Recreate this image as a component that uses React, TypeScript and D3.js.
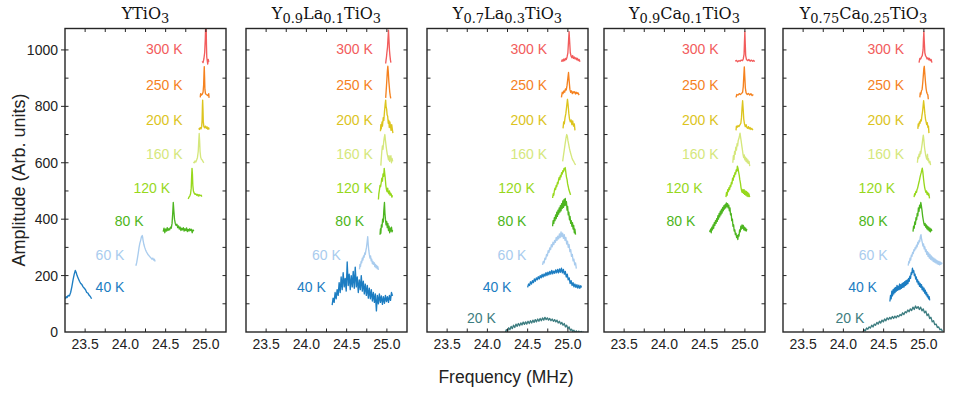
import React from 'react';
import * as d3 from 'd3';

type Pt = [number, number];

// ---------- categories / labels ----------
const temperatures = ['300', '250', '200', '160', '120', '80', '60', '40', '20'];
const tempColors: Record<string, string> = {
  '300': '#f25c5c', '250': '#f5821f', '200': '#dcc41e', '160': '#d5e77c',
  '120': '#97d81c', '80': '#4db520', '60': '#a9ccee', '40': '#1c7dc2', '20': '#3d7d80',
};
// label vertical position (amplitude units)
const labelAmp: Record<string, number> = {
  '300': 1003, '250': 874, '200': 753, '160': 632, '120': 512, '80': 393, '60': 273, '40': 161, '20': 48,
};
const xTickLabels = [23.5, 24.0, 24.5, 25.0];
const xMinorTicks = [23.75, 24.25, 24.75];
const yTickLabels = [0, 200, 400, 600, 800, 1000];
const yMinorTicks = [100, 300, 500, 700, 900];

const panelTitles: { t: string; sub?: boolean }[][] = [
  [{ t: 'YTiO' }, { t: '3', sub: true }],
  [{ t: 'Y' }, { t: '0.9', sub: true }, { t: 'La' }, { t: '0.1', sub: true }, { t: 'TiO' }, { t: '3', sub: true }],
  [{ t: 'Y' }, { t: '0.7', sub: true }, { t: 'La' }, { t: '0.3', sub: true }, { t: 'TiO' }, { t: '3', sub: true }],
  [{ t: 'Y' }, { t: '0.9', sub: true }, { t: 'Ca' }, { t: '0.1', sub: true }, { t: 'TiO' }, { t: '3', sub: true }],
  [{ t: 'Y' }, { t: '0.75', sub: true }, { t: 'Ca' }, { t: '0.25', sub: true }, { t: 'TiO' }, { t: '3', sub: true }],
];

// label right-end frequency per panel
const labelFreq: Record<string, number>[] = [
  { '300': 24.71, '250': 24.71, '200': 24.71, '160': 24.71, '120': 24.556, '80': 24.225, '60': 23.988, '40': 23.988 },
  { '300': 24.826, '250': 24.826, '200': 24.826, '160': 24.826, '120': 24.826, '80': 24.718, '60': 24.428, '40': 24.241 },
  { '300': 24.742, '250': 24.742, '200': 24.742, '160': 24.742, '120': 24.589, '80': 24.485, '60': 24.485, '40': 24.299, '20': 24.104 },
  { '300': 24.674, '250': 24.674, '200': 24.674, '160': 24.674, '120': 24.475, '80': 24.384 },
  { '300': 24.755, '250': 24.755, '200': 24.755, '160': 24.755, '120': 24.644, '80': 24.549, '60': 24.549, '40': 24.417, '20': 24.261 },
];

// ---------- Panel 1: YTiO3 ----------
const p1_300: Pt[] = [[24.955, 960], [24.965, 955], [24.975, 968], [24.985, 990], [24.993, 1040], [24.998, 1095], [25.003, 1100], [25.007, 1020], [25.011, 975], [25.017, 962], [25.023, 950], [25.03, 966], [25.036, 958]];
const p1_250: Pt[] = [[24.93, 832], [24.935, 845], [24.945, 840], [24.955, 843], [24.965, 850], [24.972, 875], [24.977, 920], [24.98, 941], [24.984, 905], [24.988, 860], [24.995, 845], [25.005, 842], [25.015, 840], [25.025, 838], [25.035, 845], [25.04, 830]];
const p1_200: Pt[] = [[24.91, 722], [24.92, 718], [24.93, 725], [24.94, 720], [24.948, 728], [24.953, 750], [24.957, 800], [24.96, 822], [24.964, 790], [24.968, 745], [24.975, 728], [24.985, 724], [24.995, 730], [25.005, 722], [25.015, 727], [25.025, 719], [25.035, 724], [25.04, 718]];
const p1_160: Pt[] = [[24.845, 603], [24.855, 600], [24.865, 606], [24.875, 603], [24.885, 610], [24.895, 618], [24.905, 640], [24.912, 680], [24.917, 704], [24.922, 680], [24.928, 640], [24.935, 620], [24.945, 612], [24.955, 610], [24.965, 604], [24.975, 600]];
const p1_120: Pt[] = [[24.78, 472], [24.79, 478], [24.8, 482], [24.81, 490], [24.818, 510], [24.823, 550], [24.828, 580], [24.833, 560], [24.838, 520], [24.845, 500], [24.855, 492], [24.865, 488], [24.875, 490], [24.885, 485], [24.895, 488], [24.905, 482], [24.915, 487], [24.925, 483], [24.94, 485], [24.95, 480]];
const p1_80: Pt[] = [[24.47, 356], [24.48, 368], [24.49, 352], [24.5, 365], [24.51, 358], [24.52, 370], [24.53, 360], [24.54, 366], [24.55, 362], [24.56, 372], [24.57, 368], [24.58, 385], [24.588, 420], [24.595, 459], [24.602, 430], [24.61, 400], [24.62, 385], [24.63, 378], [24.64, 382], [24.65, 370], [24.66, 376], [24.67, 365], [24.68, 372], [24.69, 360], [24.7, 368], [24.71, 362], [24.72, 370], [24.73, 358], [24.74, 366], [24.75, 360], [24.76, 369], [24.77, 356], [24.78, 364], [24.79, 358], [24.8, 366], [24.81, 360], [24.82, 364], [24.83, 352], [24.84, 362], [24.85, 358]];
const p1_60: Pt[] = [[24.13, 235], [24.14, 245], [24.15, 262], [24.16, 280], [24.17, 300], [24.18, 315], [24.19, 325], [24.2, 338], [24.21, 342], [24.215, 335], [24.22, 325], [24.23, 310], [24.24, 300], [24.25, 292], [24.26, 285], [24.27, 280], [24.28, 275], [24.29, 272], [24.3, 268], [24.31, 265], [24.32, 262], [24.33, 258], [24.34, 262], [24.35, 255], [24.36, 258], [24.37, 250]];
const p1_40: Pt[] = [[23.255, 118], [23.265, 125], [23.275, 122], [23.29, 130], [23.305, 128], [23.32, 140], [23.335, 160], [23.35, 185], [23.365, 205], [23.378, 218], [23.388, 212], [23.4, 200], [23.415, 190], [23.43, 180], [23.445, 172], [23.46, 168], [23.475, 160], [23.49, 155], [23.505, 150], [23.52, 140], [23.535, 138], [23.55, 130], [23.565, 126], [23.58, 118]];

// ---------- Panel 2: Y0.9La0.1TiO3 ----------
const p2_300: Pt[] = [[24.985, 952], [24.99, 965], [24.995, 975], [25.0, 990], [25.008, 1010], [25.014, 1040], [25.02, 1070], [25.026, 1035], [25.032, 1000], [25.038, 980], [25.044, 965], [25.05, 955]];
const p2_250: Pt[] = [[24.985, 830], [24.99, 850], [24.995, 872], [25.0, 895], [25.006, 925], [25.012, 942], [25.018, 920], [25.024, 890], [25.03, 870], [25.036, 850], [25.042, 838], [25.048, 828]];
const p2_200: Pt[] = [[24.92, 712], [24.925, 735], [24.93, 720], [24.94, 745], [24.945, 730], [24.955, 760], [24.962, 750], [24.97, 780], [24.978, 805], [24.985, 822], [24.99, 800], [24.997, 790], [25.003, 770], [25.01, 765], [25.017, 740], [25.024, 750], [25.03, 725], [25.037, 745], [25.045, 730], [25.052, 715], [25.06, 735], [25.067, 720], [25.075, 705]];
const p2_160: Pt[] = [[24.925, 590], [24.93, 612], [24.937, 640], [24.945, 660], [24.952, 648], [24.96, 672], [24.968, 690], [24.975, 700], [24.982, 680], [24.99, 660], [24.997, 645], [25.005, 630], [25.012, 622], [25.02, 610], [25.027, 625], [25.035, 605], [25.042, 618], [25.05, 625], [25.057, 600], [25.065, 615], [25.072, 605]];
const p2_120: Pt[] = [[24.895, 470], [24.9, 490], [24.908, 505], [24.915, 520], [24.922, 515], [24.93, 530], [24.937, 545], [24.945, 535], [24.952, 560], [24.96, 552], [24.967, 580], [24.974, 560], [24.98, 545], [24.987, 520], [24.995, 505], [25.002, 498], [25.01, 510], [25.017, 495], [25.025, 490], [25.032, 500], [25.04, 485], [25.047, 492], [25.055, 488], [25.062, 478], [25.07, 485]];
const p2_80: Pt[] = [[24.915, 345], [24.92, 365], [24.925, 350], [24.932, 380], [24.94, 372], [24.947, 400], [24.955, 390], [24.962, 430], [24.97, 459], [24.976, 420], [24.982, 400], [24.99, 380], [24.997, 392], [25.005, 370], [25.012, 385], [25.02, 360], [25.027, 375], [25.035, 352], [25.042, 368], [25.05, 358], [25.057, 372], [25.065, 355], [25.07, 362]];
const p2_60: Pt[] = [[24.66, 222], [24.665, 240], [24.672, 232], [24.68, 250], [24.687, 245], [24.695, 262], [24.702, 255], [24.71, 270], [24.717, 265], [24.725, 280], [24.732, 275], [24.74, 290], [24.747, 300], [24.755, 320], [24.762, 338], [24.768, 312], [24.775, 290], [24.782, 275], [24.79, 262], [24.797, 270], [24.805, 252], [24.812, 258], [24.82, 242], [24.827, 250], [24.835, 240], [24.842, 246], [24.85, 232], [24.857, 240], [24.865, 228], [24.872, 236], [24.88, 225], [24.887, 232], [24.895, 220]];
const p2_40: Pt[] = [[24.32, 95], [24.332, 120], [24.345, 105], [24.357, 140], [24.37, 118], [24.382, 150], [24.395, 130], [24.407, 175], [24.42, 140], [24.432, 195], [24.445, 150], [24.457, 210], [24.47, 160], [24.482, 190], [24.495, 145], [24.507, 248], [24.52, 165], [24.532, 205], [24.545, 150], [24.557, 200], [24.57, 160], [24.582, 215], [24.595, 155], [24.607, 230], [24.62, 160], [24.632, 195], [24.645, 140], [24.657, 185], [24.67, 150], [24.682, 200], [24.695, 145], [24.707, 180], [24.72, 135], [24.732, 170], [24.745, 130], [24.757, 165], [24.77, 120], [24.782, 155], [24.795, 118], [24.807, 150], [24.82, 110], [24.832, 140], [24.845, 105], [24.857, 135], [24.87, 75], [24.882, 130], [24.895, 100], [24.907, 135], [24.92, 105], [24.932, 128], [24.945, 98], [24.957, 125], [24.97, 102], [24.982, 130], [24.995, 108], [25.007, 125], [25.02, 105], [25.032, 130], [25.045, 112], [25.057, 140], [25.07, 128]];

// ---------- Panel 3: Y0.7La0.3TiO3 ----------
const p3_300: Pt[] = [[24.92, 958], [24.93, 965], [24.94, 960], [24.95, 968], [24.96, 962], [24.97, 970], [24.98, 966], [24.99, 975], [25.0, 990], [25.008, 1030], [25.015, 1065], [25.022, 1030], [25.03, 990], [25.04, 978], [25.05, 972], [25.06, 980], [25.07, 970], [25.08, 975], [25.09, 968], [25.1, 972], [25.11, 965], [25.12, 970], [25.13, 962], [25.14, 966], [25.15, 958]];
const p3_250: Pt[] = [[24.92, 832], [24.93, 850], [24.94, 845], [24.95, 855], [24.96, 850], [24.97, 862], [24.98, 858], [24.99, 875], [25.0, 900], [25.008, 920], [25.016, 890], [25.025, 860], [25.035, 850], [25.045, 855], [25.055, 845], [25.065, 852], [25.075, 848], [25.085, 852], [25.095, 844], [25.105, 850], [25.115, 845], [25.125, 848], [25.14, 840]];
const p3_200: Pt[] = [[24.94, 722], [24.948, 745], [24.955, 738], [24.965, 760], [24.975, 775], [24.985, 800], [24.995, 825], [25.003, 805], [25.012, 775], [25.02, 755], [25.03, 745], [25.04, 752], [25.05, 735], [25.06, 748], [25.07, 730], [25.08, 738], [25.088, 715]];
const p3_160: Pt[] = [[24.935, 605], [24.945, 625], [24.955, 645], [24.965, 665], [24.975, 685], [24.985, 700], [24.993, 695], [25.0, 680], [25.01, 665], [25.02, 650], [25.03, 638], [25.04, 628], [25.05, 618], [25.06, 610], [25.07, 606], [25.08, 600], [25.095, 592]];
const p3_120: Pt[] = [[24.81, 475], [24.818, 490], [24.825, 485], [24.832, 500], [24.84, 510], [24.847, 505], [24.855, 520], [24.862, 515], [24.87, 530], [24.877, 525], [24.885, 540], [24.892, 548], [24.9, 540], [24.907, 555], [24.915, 550], [24.922, 565], [24.93, 560], [24.937, 572], [24.945, 568], [24.952, 580], [24.96, 575], [24.967, 583], [24.975, 565], [24.982, 550], [24.99, 540], [24.997, 525], [25.005, 515], [25.012, 505], [25.02, 498], [25.027, 492], [25.033, 486]];
const p3_80: Pt[] = [[24.81, 375], [24.817, 395], [24.825, 385], [24.832, 405], [24.84, 395], [24.847, 415], [24.855, 402], [24.862, 425], [24.87, 410], [24.877, 432], [24.885, 418], [24.892, 440], [24.9, 425], [24.907, 448], [24.915, 430], [24.922, 455], [24.93, 438], [24.937, 465], [24.945, 442], [24.952, 470], [24.96, 448], [24.967, 474], [24.975, 450], [24.982, 462], [24.99, 432], [24.997, 445], [25.005, 415], [25.012, 425], [25.02, 398], [25.027, 410], [25.035, 385], [25.042, 395], [25.05, 375], [25.057, 388], [25.065, 365], [25.072, 378], [25.08, 352], [25.087, 365], [25.095, 345]];
const p3_60: Pt[] = [[24.685, 238], [24.695, 250], [24.705, 245], [24.715, 262], [24.725, 258], [24.735, 275], [24.745, 270], [24.755, 288], [24.765, 282], [24.775, 298], [24.785, 292], [24.795, 310], [24.805, 302], [24.815, 318], [24.825, 310], [24.835, 325], [24.845, 318], [24.855, 335], [24.865, 325], [24.875, 340], [24.885, 330], [24.895, 348], [24.905, 335], [24.915, 355], [24.925, 338], [24.935, 350], [24.945, 332], [24.955, 345], [24.965, 325], [24.975, 335], [24.985, 312], [24.995, 322], [25.005, 300], [25.015, 310], [25.025, 285], [25.035, 292], [25.045, 268], [25.055, 275], [25.065, 252], [25.075, 258], [25.085, 238], [25.095, 245], [25.105, 225]];
const p3_40: Pt[] = [[24.5, 158], [24.512, 170], [24.524, 165], [24.536, 178], [24.548, 170], [24.56, 182], [24.572, 175], [24.584, 188], [24.596, 180], [24.608, 192], [24.62, 185], [24.632, 196], [24.644, 188], [24.656, 200], [24.668, 192], [24.68, 204], [24.692, 195], [24.704, 206], [24.716, 198], [24.728, 210], [24.74, 200], [24.752, 212], [24.764, 203], [24.776, 215], [24.788, 205], [24.8, 218], [24.812, 206], [24.824, 216], [24.836, 208], [24.848, 220], [24.86, 210], [24.872, 222], [24.884, 210], [24.896, 224], [24.908, 212], [24.92, 226], [24.932, 210], [24.944, 222], [24.956, 205], [24.968, 215], [24.98, 195], [24.992, 205], [25.004, 185], [25.016, 192], [25.028, 172], [25.04, 182], [25.052, 165], [25.064, 175], [25.076, 160], [25.088, 170], [25.1, 158], [25.112, 168], [25.124, 156], [25.136, 166], [25.148, 155], [25.16, 164], [25.17, 158]];
const p3_20: Pt[] = [[24.22, -5], [24.235, 8], [24.25, 2], [24.265, 15], [24.28, 8], [24.295, 20], [24.31, 12], [24.325, 24], [24.34, 16], [24.355, 28], [24.37, 20], [24.385, 30], [24.4, 22], [24.415, 32], [24.43, 25], [24.445, 35], [24.46, 27], [24.475, 36], [24.49, 28], [24.505, 38], [24.52, 30], [24.535, 40], [24.55, 32], [24.565, 42], [24.58, 34], [24.595, 44], [24.61, 36], [24.625, 46], [24.64, 38], [24.655, 48], [24.67, 40], [24.685, 50], [24.7, 42], [24.715, 52], [24.73, 44], [24.745, 50], [24.76, 42], [24.775, 48], [24.79, 40], [24.805, 46], [24.82, 38], [24.835, 44], [24.85, 36], [24.865, 42], [24.88, 32], [24.895, 38], [24.91, 28], [24.925, 34], [24.94, 24], [24.955, 30], [24.97, 18], [24.985, 24], [25.0, 12], [25.015, 18], [25.03, 6], [25.045, 10], [25.06, 2], [25.075, 6], [25.09, -2], [25.105, 4], [25.12, -3], [25.135, 3], [25.15, -2], [25.165, 2], [25.18, -3], [25.195, 1]];

// ---------- Panel 4: Y0.9Ca0.1TiO3 ----------
const p4_300: Pt[] = [[24.88, 960], [24.895, 963], [24.91, 958], [24.925, 962], [24.94, 960], [24.955, 964], [24.97, 962], [24.98, 968], [24.99, 985], [24.995, 1030], [25.0, 1065], [25.005, 1020], [25.01, 980], [25.02, 966], [25.035, 962], [25.05, 966], [25.065, 960], [25.08, 964], [25.095, 960], [25.11, 963], [25.12, 958]];
const p4_250: Pt[] = [[24.89, 832], [24.9, 842], [24.915, 840], [24.93, 845], [24.945, 842], [24.96, 846], [24.972, 850], [24.98, 870], [24.987, 910], [24.993, 940], [24.999, 905], [25.006, 865], [25.015, 848], [25.03, 842], [25.045, 846], [25.06, 840], [25.075, 845], [25.09, 838], [25.105, 842]];
const p4_200: Pt[] = [[24.89, 715], [24.895, 730], [24.905, 726], [24.915, 732], [24.925, 728], [24.94, 735], [24.95, 740], [24.958, 760], [24.965, 795], [24.972, 820], [24.979, 790], [24.986, 755], [24.995, 738], [25.005, 728], [25.015, 735], [25.025, 725], [25.035, 722], [25.045, 728], [25.055, 720], [25.065, 725], [25.075, 718], [25.085, 722], [25.1, 716]];
const p4_160: Pt[] = [[24.85, 600], [24.857, 625], [24.865, 612], [24.872, 640], [24.88, 630], [24.887, 655], [24.895, 645], [24.903, 668], [24.91, 660], [24.918, 680], [24.925, 685], [24.933, 695], [24.94, 705], [24.947, 690], [24.955, 675], [24.962, 660], [24.97, 645], [24.977, 630], [24.985, 618], [24.992, 628], [25.0, 610], [25.007, 620], [25.015, 605], [25.022, 615], [25.03, 600], [25.037, 610], [25.045, 598], [25.052, 605], [25.06, 588]];
const p4_120: Pt[] = [[24.765, 478], [24.772, 495], [24.78, 485], [24.787, 505], [24.795, 498], [24.802, 512], [24.81, 505], [24.817, 520], [24.825, 515], [24.832, 530], [24.84, 525], [24.847, 545], [24.855, 538], [24.862, 555], [24.87, 550], [24.877, 565], [24.885, 560], [24.892, 575], [24.9, 570], [24.907, 588], [24.915, 580], [24.922, 568], [24.93, 555], [24.937, 540], [24.945, 528], [24.952, 512], [24.96, 500], [24.967, 495], [24.975, 505], [24.982, 492], [24.99, 505], [24.997, 488], [25.005, 500], [25.012, 485], [25.02, 498], [25.027, 482], [25.035, 495], [25.042, 480], [25.05, 490], [25.06, 478]];
const p4_80: Pt[] = [[24.56, 360], [24.567, 356], [24.575, 365], [24.582, 352], [24.59, 372], [24.597, 362], [24.605, 380], [24.612, 368], [24.62, 388], [24.627, 378], [24.635, 395], [24.642, 385], [24.65, 402], [24.657, 392], [24.665, 412], [24.672, 400], [24.68, 420], [24.687, 408], [24.695, 428], [24.702, 415], [24.71, 435], [24.717, 422], [24.725, 442], [24.732, 430], [24.74, 448], [24.747, 436], [24.755, 452], [24.762, 440], [24.77, 458], [24.777, 445], [24.785, 455], [24.792, 440], [24.8, 450], [24.807, 430], [24.815, 440], [24.822, 415], [24.83, 420], [24.837, 395], [24.845, 400], [24.852, 375], [24.86, 380], [24.867, 358], [24.875, 362], [24.882, 345], [24.89, 350], [24.897, 335], [24.905, 342], [24.912, 328], [24.92, 345], [24.927, 340], [24.935, 362], [24.942, 355], [24.95, 375], [24.957, 365], [24.965, 380], [24.972, 368], [24.98, 378], [24.987, 362], [24.995, 372], [25.002, 360], [25.01, 368], [25.017, 358], [25.025, 365]];

// ---------- Panel 5: Y0.75Ca0.25TiO3 ----------
const p5_300: Pt[] = [[24.94, 955], [24.95, 970], [24.96, 968], [24.97, 975], [24.98, 980], [24.99, 1000], [24.995, 1040], [25.0, 1065], [25.005, 1030], [25.012, 990], [25.02, 980], [25.03, 975], [25.04, 968], [25.05, 972], [25.06, 965], [25.07, 970], [25.08, 962], [25.09, 966], [25.1, 955]];
const p5_250: Pt[] = [[24.95, 832], [24.955, 848], [24.962, 842], [24.97, 855], [24.978, 860], [24.985, 880], [24.992, 905], [25.0, 935], [25.005, 942], [25.012, 915], [25.02, 885], [25.028, 862], [25.035, 850], [25.042, 845], [25.05, 840], [25.055, 825]];
const p5_200: Pt[] = [[24.925, 720], [24.93, 738], [24.937, 730], [24.945, 745], [24.952, 740], [24.96, 752], [24.968, 748], [24.975, 765], [24.983, 780], [24.99, 800], [24.997, 820], [25.004, 800], [25.012, 775], [25.02, 755], [25.028, 745], [25.035, 735], [25.042, 742], [25.05, 725], [25.057, 730], [25.063, 705]];
const p5_160: Pt[] = [[24.92, 600], [24.925, 620], [24.932, 615], [24.94, 630], [24.947, 622], [24.955, 640], [24.962, 632], [24.97, 650], [24.978, 665], [24.985, 682], [24.993, 698], [25.0, 680], [25.008, 655], [25.015, 640], [25.022, 628], [25.03, 618], [25.037, 612], [25.045, 630], [25.05, 608], [25.057, 615], [25.065, 600], [25.075, 605], [25.083, 592]];
const p5_120: Pt[] = [[24.878, 478], [24.885, 490], [24.892, 486], [24.9, 498], [24.908, 495], [24.915, 505], [24.922, 510], [24.93, 520], [24.938, 530], [24.945, 538], [24.952, 548], [24.96, 558], [24.967, 565], [24.975, 575], [24.98, 581], [24.988, 565], [24.995, 545], [25.002, 528], [25.01, 512], [25.018, 502], [25.025, 495], [25.032, 500], [25.04, 488], [25.047, 495], [25.055, 485], [25.062, 490], [25.07, 474]];
const p5_80: Pt[] = [[24.865, 356], [24.872, 375], [24.88, 368], [24.887, 390], [24.895, 382], [24.902, 405], [24.91, 398], [24.917, 420], [24.925, 412], [24.932, 440], [24.94, 428], [24.947, 450], [24.955, 440], [24.962, 459], [24.97, 445], [24.977, 430], [24.985, 410], [24.992, 398], [25.0, 385], [25.007, 378], [25.015, 385], [25.022, 372], [25.03, 380], [25.037, 366], [25.045, 375], [25.052, 362], [25.06, 372], [25.067, 358], [25.075, 368], [25.082, 355], [25.09, 365], [25.1, 358]];
const p5_60: Pt[] = [[24.805, 235], [24.813, 250], [24.82, 245], [24.828, 262], [24.836, 255], [24.844, 272], [24.852, 268], [24.86, 282], [24.868, 278], [24.876, 292], [24.884, 288], [24.892, 300], [24.9, 295], [24.908, 308], [24.916, 302], [24.924, 318], [24.932, 312], [24.94, 325], [24.948, 320], [24.956, 338], [24.964, 345], [24.972, 328], [24.98, 318], [24.988, 305], [24.996, 312], [25.004, 295], [25.012, 302], [25.02, 285], [25.028, 292], [25.036, 275], [25.044, 285], [25.052, 268], [25.06, 280], [25.068, 262], [25.076, 275], [25.084, 258], [25.092, 270], [25.1, 255], [25.108, 265], [25.116, 250], [25.124, 262], [25.132, 248], [25.14, 258], [25.148, 245], [25.156, 255], [25.164, 242], [25.172, 252], [25.18, 240], [25.188, 250], [25.196, 238], [25.204, 248], [25.212, 240], [25.22, 245], [25.228, 242]];
const p5_40: Pt[] = [[24.578, 108], [24.586, 130], [24.594, 118], [24.602, 145], [24.61, 128], [24.618, 150], [24.626, 135], [24.634, 155], [24.642, 140], [24.65, 158], [24.658, 145], [24.666, 165], [24.674, 148], [24.682, 162], [24.69, 150], [24.698, 170], [24.706, 152], [24.714, 168], [24.722, 155], [24.73, 172], [24.738, 158], [24.746, 175], [24.754, 160], [24.762, 178], [24.77, 165], [24.778, 182], [24.786, 168], [24.794, 185], [24.802, 172], [24.81, 190], [24.818, 180], [24.826, 198], [24.834, 190], [24.842, 210], [24.85, 205], [24.858, 226], [24.866, 212], [24.874, 218], [24.882, 200], [24.89, 205], [24.898, 188], [24.906, 195], [24.914, 178], [24.922, 185], [24.93, 170], [24.938, 178], [24.946, 162], [24.954, 172], [24.962, 158], [24.97, 168], [24.978, 150], [24.986, 160], [24.994, 145], [25.002, 155], [25.01, 138], [25.018, 148], [25.026, 132], [25.034, 140], [25.042, 125], [25.05, 132], [25.058, 118], [25.066, 125], [25.072, 112]];
const p5_20: Pt[] = [[24.24, -3], [24.256, 8], [24.272, 4], [24.288, 14], [24.304, 10], [24.32, 18], [24.336, 14], [24.352, 24], [24.368, 18], [24.384, 28], [24.4, 24], [24.416, 34], [24.432, 28], [24.448, 38], [24.464, 32], [24.48, 42], [24.496, 36], [24.512, 46], [24.528, 40], [24.544, 50], [24.56, 44], [24.576, 52], [24.592, 46], [24.608, 55], [24.624, 48], [24.64, 56], [24.656, 50], [24.672, 58], [24.688, 54], [24.704, 62], [24.72, 58], [24.736, 68], [24.752, 62], [24.768, 72], [24.784, 68], [24.8, 78], [24.816, 72], [24.832, 82], [24.848, 76], [24.864, 88], [24.88, 80], [24.896, 92], [24.912, 84], [24.928, 90], [24.944, 80], [24.96, 88], [24.976, 75], [24.992, 82], [25.008, 68], [25.024, 74], [25.04, 58], [25.056, 64], [25.072, 48], [25.088, 52], [25.104, 36], [25.12, 40], [25.136, 26], [25.152, 28], [25.168, 16], [25.184, 18], [25.2, 8], [25.216, 10], [25.232, 2]];

const panelSeries: Record<string, Pt[]>[] = [
  { '300': p1_300, '250': p1_250, '200': p1_200, '160': p1_160, '120': p1_120, '80': p1_80, '60': p1_60, '40': p1_40 },
  { '300': p2_300, '250': p2_250, '200': p2_200, '160': p2_160, '120': p2_120, '80': p2_80, '60': p2_60, '40': p2_40 },
  { '300': p3_300, '250': p3_250, '200': p3_200, '160': p3_160, '120': p3_120, '80': p3_80, '60': p3_60, '40': p3_40, '20': p3_20 },
  { '300': p4_300, '250': p4_250, '200': p4_200, '160': p4_160, '120': p4_120, '80': p4_80 },
  { '300': p5_300, '250': p5_250, '200': p5_200, '160': p5_160, '120': p5_120, '80': p5_80, '60': p5_60, '40': p5_40, '20': p5_20 },
];

// ---------- layout ----------
const W = 954, H = 397;
const panelLefts = [65, 246, 427, 604, 783];
const panelW = 161;
const plotTop = 28.5, plotBottom = 332;
const xDomain: [number, number] = [23.25, 25.25];
const yDomain: [number, number] = [0, 1076];
const sans = '"Liberation Sans", Arial, sans-serif';
const serif = '"DejaVu Serif", serif';
const axisColor = '#262626';

function Panel({ idx }: { idx: number }) {
  const left = panelLefts[idx];
  const x = d3.scaleLinear().domain(xDomain).range([left, left + panelW]);
  const y = d3.scaleLinear().domain(yDomain).range([plotBottom, plotTop]);
  const line = d3.line<Pt>().x(d => x(d[0])).y(d => y(d[1]));
  const series = panelSeries[idx];
  const clipId = `clip${idx}`;
  const tickLen = 3.5;
  return (
    <g>
      <defs>
        <clipPath id={clipId}>
          <rect x={left} y={plotTop} width={panelW} height={plotBottom - plotTop} />
        </clipPath>
      </defs>
      {/* title */}
      <text x={left + panelW / 2} y={18.5} textAnchor="middle" fontFamily={serif} fontSize={16} fill="#111">
        {panelTitles[idx].map((p, i) => (
          <tspan key={i} fontSize={p.sub ? 13 : 16} dy={p.sub ? 4 : (i > 0 && panelTitles[idx][i - 1].sub ? -4 : 0)}>{p.t}</tspan>
        ))}
      </text>
      {/* curves */}
      <g clipPath={`url(#${clipId})`}>
        {temperatures.filter(t => series[t]).map(t => (
          <path key={t} d={line(series[t]) || ''} fill="none" stroke={tempColors[t]} strokeWidth={1.35} strokeLinejoin="round" />
        ))}
      </g>
      {/* temperature labels */}
      {temperatures.filter(t => series[t]).map(t => (
        <text key={'l' + t} x={x(labelFreq[idx][t])} y={y(labelAmp[t]) + 5} textAnchor="end" fontFamily={sans} fontSize={14} fill={tempColors[t]}>
          {t} K
        </text>
      ))}
      {/* ticks */}
      {[...xTickLabels, ...xMinorTicks].map(v => (
        <g key={'xt' + v}>
          <line x1={x(v)} x2={x(v)} y1={plotBottom} y2={plotBottom - tickLen} stroke={axisColor} strokeWidth={1} />
          <line x1={x(v)} x2={x(v)} y1={plotTop} y2={plotTop + tickLen} stroke={axisColor} strokeWidth={1} />
        </g>
      ))}
      {[...yTickLabels.filter(v => v > 0), ...yMinorTicks].map(v => (
        <g key={'yt' + v}>
          <line x1={left} x2={left + tickLen} y1={y(v)} y2={y(v)} stroke={axisColor} strokeWidth={1} />
          <line x1={left + panelW} x2={left + panelW - tickLen} y1={y(v)} y2={y(v)} stroke={axisColor} strokeWidth={1} />
          {idx === 0 && yTickLabels.includes(v) ? (
            <line x1={left} x2={left - 4} y1={y(v)} y2={y(v)} stroke={axisColor} strokeWidth={1} />
          ) : null}
        </g>
      ))}
      {/* frame */}
      <rect x={left} y={plotTop} width={panelW} height={plotBottom - plotTop} fill="none" stroke={axisColor} strokeWidth={1.4} />
      {/* x tick labels */}
      {xTickLabels.map(v => (
        <text key={'xl' + v} x={x(v)} y={348.5} textAnchor="middle" fontFamily={sans} fontSize={14} fill="#222">
          {d3.format('.1f')(v)}
        </text>
      ))}
      {/* y tick labels */}
      {idx === 0 && yTickLabels.map(v => (
        <text key={'yl' + v} x={left - 7} y={y(v) + 5} textAnchor="end" fontFamily={sans} fontSize={14} fill="#222">
          {v}
        </text>
      ))}
    </g>
  );
}

export default function App() {
  return (
    <svg width={W} height={H} style={{ position: 'absolute', left: 0, top: 0, background: '#fff' }}>
      <rect x={0} y={0} width={W} height={H} fill="#fff" />
      {panelLefts.map((_, i) => <Panel key={i} idx={i} />)}
      <text transform={`translate(25,180) rotate(-90)`} textAnchor="middle" fontFamily={sans} fontSize={18} fill="#222">
        Amplitude (Arb. units)
      </text>
      <text x={506} y={383} textAnchor="middle" fontFamily={sans} fontSize={17.5} fill="#222">
        Frequency (MHz)
      </text>
    </svg>
  );
}
